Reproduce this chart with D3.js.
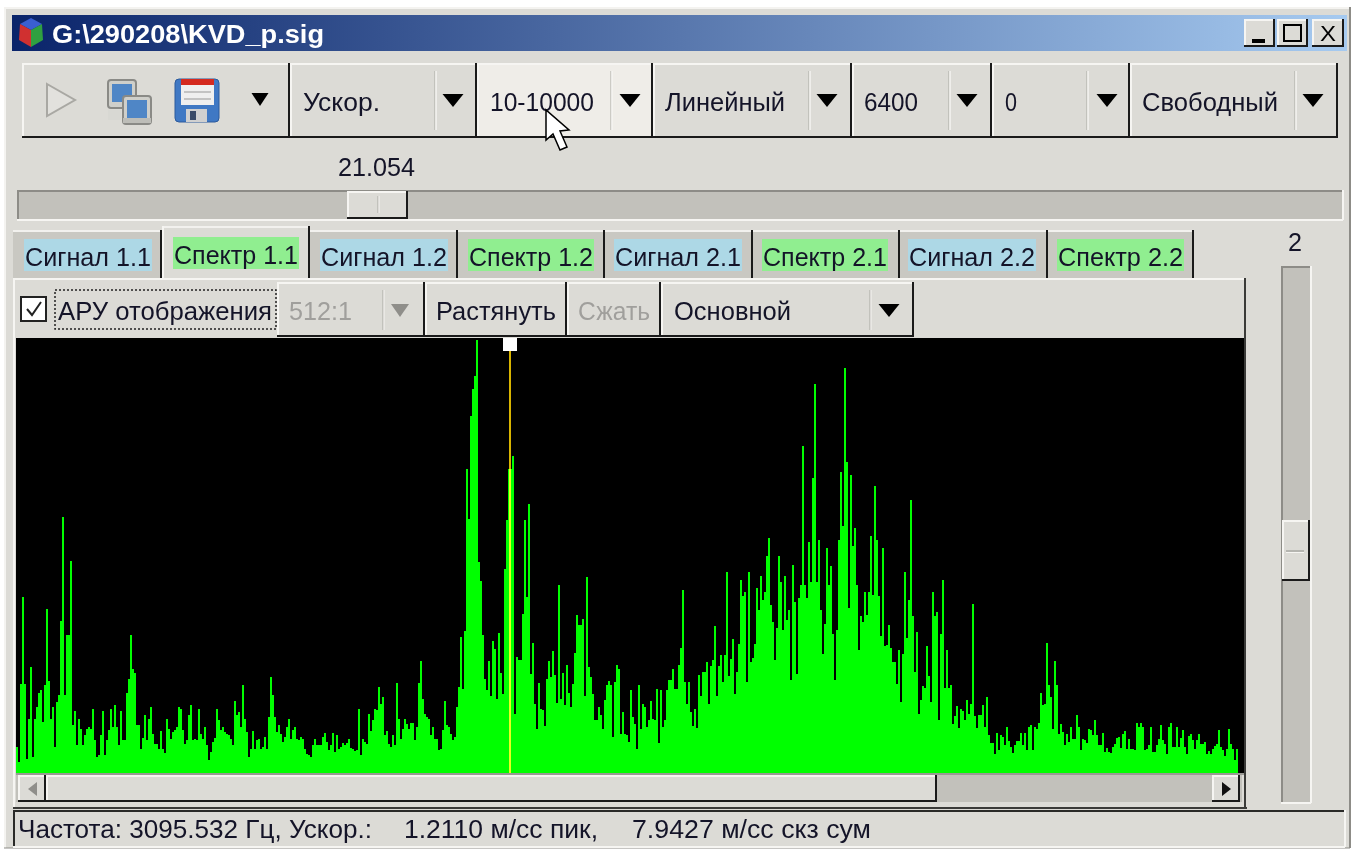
<!DOCTYPE html>
<html>
<head>
<meta charset="utf-8">
<script src="https://cdn.jsdelivr.net/npm/d3@7"></script>
<style>
  html, body { margin: 0; padding: 0; background: #fff; overflow: hidden; }
  svg { display: block; filter: blur(0.45px); }
  text { font-family: "Liberation Sans", Arial, sans-serif; }
</style>
</head>
<body>
<div id="app"></div>
<script>
var svgWidth = 1359;
var svgHeight = 851;

// spectrum amplitudes left to right
var ampLow = [
  26, 11, 89, 176, 89, 14, 54, 106, 16, 54,
  66, 80, 83, 51, 88, 164, 92, 54, 66, 26,
  71, 78, 152, 256, 78, 138, 138, 212, 48, 62,
  28, 54, 44, 28, 38, 44, 46, 44, 64, 33,
  16, 18, 38, 62, 18, 33, 43, 64, 46, 68,
  46, 28, 62, 33, 33, 80, 94, 138, 104, 100,
  48, 48, 24, 35, 58, 33, 54, 66, 39, 29,
  29, 24, 42, 24, 20, 54, 44, 34, 41, 43,
  46, 66, 64, 43, 29, 33, 58, 68, 33, 34,
  33, 64, 39, 34, 46, 28, 13, 21, 31, 35,
  64, 53, 43, 46, 41, 39, 38, 34, 28, 72,
  58, 61, 46, 88, 54, 41, 16, 24, 42, 24,
  33, 34, 24, 26, 36, 24, 56, 96, 78, 56,
  41, 48, 39, 31, 36, 46, 54, 34, 43, 46,
  34, 33, 36, 34, 24, 19, 18, 16, 28, 34,
  28, 28, 28, 36, 40, 31, 23, 28, 40, 21,
  38, 24
];
var ampMid = [
  26, 30, 28, 30, 34, 25, 24, 22, 23, 64,
  18, 34, 31, 29, 59, 42, 53, 64, 63, 86,
  69, 76, 38, 42, 29, 26, 38, 28, 90, 54,
  34, 44, 54, 49, 44, 50, 50, 33, 46, 90,
  112, 74, 59, 56, 54, 38, 46, 34, 34, 23,
  24, 43, 72, 48, 46, 39, 33, 36, 66, 86,
  136, 84, 142, 304, 254, 357, 384, 397, 433, 211,
  192, 138, 94, 83, 112, 77, 132, 124, 74, 140,
  100, 79, 204, 253, 304, 304, 317, 59, 116, 113,
  113, 159, 253, 176, 269, 99, 130, 69, 44, 90,
  64, 63, 47, 94, 112, 96, 122, 98, 70, 188,
  74, 100, 68, 108, 80, 66, 89, 120, 158, 148,
  148, 154, 77, 196, 106, 96, 79, 53, 53, 66,
  58, 44, 73, 88, 92, 88, 36, 91, 108, 104,
  39, 61, 39, 38, 31, 83, 56, 49, 24, 88,
  44, 69, 66, 46, 53, 72, 54, 53, 84, 30,
  83, 46, 53, 83, 93, 93, 104, 84, 84, 108
];
var ampHigh = [
  125, 183, 91, 69, 91, 61, 47, 64, 45, 98,
  77, 101, 101, 111, 69, 107, 113, 147, 77, 107,
  118, 91, 118, 201, 97, 114, 134, 79, 101, 129,
  193, 177, 181, 91, 201, 111, 115, 129, 185, 163,
  197, 173, 181, 217, 235, 168, 151, 113, 145, 217,
  191, 143, 197, 153, 163, 93, 208, 171, 99, 175,
  188, 327, 188, 175, 231, 191, 295, 389, 191, 233,
  163, 119, 149, 225, 188, 207, 139, 93, 143, 233,
  301, 247, 405, 311, 165, 298, 227, 245, 188, 123,
  157, 151, 181, 158, 181, 237, 178, 287, 233, 177,
  137, 225, 127, 128, 148, 125, 111, 111, 89, 123,
  71, 119, 201, 135, 173, 273, 157, 101, 141, 59,
  73, 87, 85, 127, 97, 71, 181, 157, 161, 53,
  139, 193, 85, 123, 85, 88, 49, 57, 67, 45,
  64, 62, 53, 73, 59, 69, 169, 57, 45, 58
];
var ampTail = [
  58, 68, 46, 76, 38, 30, 30, 19, 40, 23,
  38, 36, 28, 46, 32, 26, 20, 28, 32, 32,
  40, 28, 40, 23, 46, 48, 23, 46, 44, 50,
  80, 68, 69, 130, 88, 76, 44, 112, 88, 39,
  49, 41, 28, 39, 31, 46, 34, 34, 58, 46,
  23, 34, 33, 30, 44, 43, 38, 53, 38, 28,
  28, 40, 21, 25, 21, 20, 26, 29, 35, 36,
  25, 39, 42, 24, 34, 24, 24, 23, 50, 46,
  50, 46, 23, 24, 28, 46, 21, 21, 28, 34,
  48, 33, 29, 19, 46, 50, 26, 26, 46, 26,
  35, 43, 26, 19, 37, 39, 33, 24, 33, 39,
  29, 29, 31, 19, 22, 19, 24, 27, 29, 43,
  26, 23, 17, 24, 44, 29, 24, 13, 24
];
var amplitudes = ampLow.concat(ampMid, ampHigh, ampTail);
var cursorBin = 247;

var windowTitle = "G:\\290208\\KVD_p.sig";
var comboLabels = ["Ускор.", "10-10000", "Линейный", "6400", "0", "Свободный"];
var tabLabels = ["Сигнал 1.1", "Спектр 1.1", "Сигнал 1.2", "Спектр 1.2", "Сигнал 2.1", "Спектр 2.1", "Сигнал 2.2", "Спектр 2.2"];
var sliderValue = "21.054";
var gainValue = "2";
var statusText = "Частота: 3095.532 Гц, Ускор.:";
var statusPeak = "1.2110 м/сс пик,";
var statusRms = "7.9427 м/сс скз сум";

var face = "#dcdbd6";
var trough = "#c2c1bb";

var svg = d3.select("#app").append("svg")
  .attr("width", svgWidth)
  .attr("height", svgHeight);

function rect(x, y, w, h, fill) {
  return svg.append("rect")
    .attr("x", x).attr("y", y).attr("width", w).attr("height", h)
    .attr("fill", fill);
}

function hline(x1, x2, y, color, sw) {
  return svg.append("line")
    .attr("x1", x1).attr("x2", x2).attr("y1", y).attr("y2", y)
    .attr("stroke", color).attr("stroke-width", sw || 1);
}

function vline(x, y1, y2, color, sw) {
  return svg.append("line")
    .attr("x1", x).attr("x2", x).attr("y1", y1).attr("y2", y2)
    .attr("stroke", color).attr("stroke-width", sw || 1);
}

function poly(points, fill, stroke, sw) {
  return svg.append("polygon")
    .attr("points", points)
    .attr("fill", fill)
    .attr("stroke", stroke || "none")
    .attr("stroke-width", sw || 1);
}

// raised 3d box, light top/left and dark bottom/right
function bevel(x, y, w, h, fill) {
  rect(x, y, w, h, fill || face);
  hline(x, x + w, y + 1, "#f6f5f2", 2);
  vline(x + 1, y, y + h, "#f6f5f2", 2);
  hline(x, x + w, y + h - 1, "#1a1a1a", 2);
  vline(x + w - 1, y, y + h, "#1a1a1a", 2);
}

// sunken box for troughs
function sunken(x, y, w, h, fill) {
  rect(x, y, w, h, fill);
  hline(x, x + w, y + 1, "#8d8c87", 2);
  vline(x + 1, y, y + h, "#8d8c87", 2);
  hline(x, x + w, y + h, "#f6f5f2", 2);
  vline(x + w, y, y + h, "#f6f5f2", 2);
}

function label(x, y, str, len, opts) {
  opts = opts || {};
  return svg.append("text")
    .attr("x", x).attr("y", y)
    .attr("font-size", opts.size || 26.5)
    .attr("font-weight", opts.weight || "normal")
    .attr("fill", opts.fill || "#141428")
    .attr("textLength", len)
    .attr("lengthAdjust", "spacingAndGlyphs")
    .text(str);
}

function arrowDown(cx, cy, color, hw) {
  hw = hw || 10.5;
  poly([[cx - hw, cy - 6], [cx + hw, cy - 6], [cx, cy + 7]].join(" "), color || "#000");
}

// window frame
rect(4, 7, 1346, 841, face);
hline(4, 1350, 8, "#f4f3f0", 2);
vline(5, 7, 848, "#f4f3f0", 2);
hline(4, 1350, 848, "#8d8c87", 1);
vline(1350, 7, 848, "#8d8c87", 2);

// title bar
var defs = svg.append("defs");
var grad = defs.append("linearGradient").attr("id", "titleGrad");
grad.append("stop").attr("offset", "0%").attr("stop-color", "#0a246a");
grad.append("stop").attr("offset", "100%").attr("stop-color", "#a6caf0");
rect(12, 15, 1335, 36, "url(#titleGrad)");

// little cube icon
poly("31,18 42,24 31,30 20,24", "#3a5fd0");
poly("20,24 31,30 31,47 19,40", "#d03030");
poly("42,24 31,30 31,47 43,40", "#30a040");
label(52, 43, windowTitle, 272, {size: 26, weight: "bold", fill: "#fff"});

// caption buttons
bevel(1244, 19, 31, 28);
rect(1252, 39, 13, 4, "#000");
bevel(1277, 19, 31, 28);
svg.append("rect").attr("x", 1284).attr("y", 25).attr("width", 17).attr("height", 16)
  .attr("fill", "none").attr("stroke", "#000").attr("stroke-width", 2);
bevel(1312, 19, 32, 28);
label(1320, 41, "X", 16, {size: 22, fill: "#000"});

// main toolbar
bevel(22, 63, 268, 75);
poly("47,84 75,100 47,116", "#e2e1dd", "#a9a8a3", 2);

// network icon
function monitor(x, y) {
  svg.append("rect").attr("x", x).attr("y", y).attr("width", 28).attr("height", 28).attr("rx", 3)
    .attr("fill", "#cfcfca").attr("stroke", "#8a8a86").attr("stroke-width", 2);
  rect(x + 4, y + 4, 20, 18, "#4f86c6");
}
monitor(108, 80);
monitor(123, 96);
rect(108, 110, 13, 10, "#d8d8d3");
rect(123, 118, 28, 5, "#bdbdb8");

// floppy icon
svg.append("rect").attr("x", 175).attr("y", 79).attr("width", 44).attr("height", 43).attr("rx", 4)
  .attr("fill", "#3f78c4").attr("stroke", "#2c5a9c").attr("stroke-width", 1);
rect(181, 79, 33, 6, "#d42a20");
rect(181, 85, 33, 20, "#efefef");
hline(184, 211, 92, "#b5b5b5", 1.5);
hline(184, 211, 99, "#b5b5b5", 1.5);
rect(186, 109, 21, 13, "#d0d0d0");
rect(190, 111, 6, 9, "#3a4a68");

arrowDown(260, 99, "#000", 8.5);

var comboEdges = [290, 477, 653, 852, 992, 1130, 1338];
var comboSeps = [436, 612, 810, 950, 1088, 1296];
var comboArrows = [453, 630, 827, 967, 1107, 1313];
var comboTextX = [303, 490, 665, 864, 1005, 1142];
var comboTextLen = [77, 104, 120, 54, 12, 136];
comboLabels.forEach(function(d, i) {
  var hot = i === 1;
  bevel(comboEdges[i], 63, comboEdges[i + 1] - comboEdges[i], 75, hot ? "#efede8" : face);
  vline(comboSeps[i] - 1, 71, 130, "#a9a8a3", 1);
  vline(comboSeps[i], 71, 130, "#f6f5f2", 1.5);
  arrowDown(comboArrows[i], 100);
  label(comboTextX[i], 111, d, comboTextLen[i]);
});

// horizontal slider
label(338, 176, sliderValue, 77);
sunken(17, 190, 1326, 30, trough);
bevel(347, 191, 61, 28);
vline(378, 196, 213, "#a9a8a3", 1);
vline(379, 196, 213, "#f6f5f2", 1);

// tabs
var tabEdges = [13, 162, 310, 458, 605, 753, 900, 1048, 1194];
var tabBoxX = [24, 173, 320, 468, 614, 762, 908, 1057];
var tabBoxW = [128, 126, 128, 126, 128, 126, 128, 127];
tabLabels.forEach(function(d, i) {
  var active = i === 1;
  var top = active ? 226 : 230;
  var w = tabEdges[i + 1] - tabEdges[i];
  rect(tabEdges[i], top, w, 50, active ? face : "#c9c8c2");
  hline(tabEdges[i], tabEdges[i + 1], top + 1, "#f2f1ee", 2);
  if (active) vline(tabEdges[i] + 1, top, 278, "#f6f5f2", 2);
  vline(tabEdges[i + 1] - 1, top, 278, "#1a1a1a", 2);
  var isSignal = i % 2 === 0;
  var y0 = active ? 237 : 239;
  rect(tabBoxX[i], y0, tabBoxW[i], 32, isSignal ? "#add8e6" : "#90ee90");
  label(tabBoxX[i] + 1, y0 + 27, d, tabBoxW[i] - 2);
});

// panel under the tabs
rect(13, 278, 1233, 530, face);
hline(13, 1246, 279, "#f6f5f2", 2);
vline(14, 278, 808, "#f6f5f2", 2);
vline(1245, 278, 808, "#3a3a38", 2);
hline(13, 1247, 808, "#3a3a38", 2);

// second toolbar
svg.append("rect").attr("x", 21).attr("y", 297).attr("width", 25).attr("height", 24)
  .attr("fill", "#fff").attr("stroke", "#222").attr("stroke-width", 2);
svg.append("polyline").attr("points", "27,309 32,315 41,302")
  .attr("fill", "none").attr("stroke", "#222").attr("stroke-width", 2);
svg.append("rect").attr("x", 55).attr("y", 290).attr("width", 221).attr("height", 39)
  .attr("fill", "none").attr("stroke", "#222").attr("stroke-width", 1.5).attr("stroke-dasharray", "2,2");
label(58, 320, "АРУ отображения", 214);

bevel(277, 282, 148, 55);
vline(383, 290, 330, "#a9a8a3", 1);
vline(384, 290, 330, "#f6f5f2", 1);
arrowDown(400, 310, "#8f8e8a", 9);
label(289, 320, "512:1", 63, {fill: "#a09f9c"});
bevel(425, 282, 142, 55);
label(436, 320, "Растянуть", 120);
bevel(567, 282, 94, 55);
label(578, 320, "Сжать", 72, {fill: "#a09f9c"});
bevel(661, 282, 253, 55);
label(674, 320, "Основной", 117);
vline(870, 290, 330, "#a9a8a3", 1);
vline(871, 290, 330, "#f6f5f2", 1);
arrowDown(889, 310);

// spectrum
var bins = d3.range(amplitudes.length);
var xScale = d3.scaleBand().domain(bins).range([16, 1238]).padding(0);
var yScale = d3.scaleLinear().domain([0, 435]).range([773, 338]);

rect(16, 338, 1228, 435, "#000");

var chartGroup = svg.append("g").attr("shape-rendering", "crispEdges");
chartGroup.selectAll("rect")
  .data(amplitudes)
  .enter()
  .append("rect")
  .attr("x", (d, i) => xScale(i))
  .attr("y", d => yScale(d))
  .attr("width", xScale.bandwidth())
  .attr("height", d => yScale(0) - yScale(d))
  .attr("fill", "#00ff00");

// frequency cursor, golden over black and yellow over the green
var cursorX = xScale(cursorBin);
vline(cursorX, 345, yScale(amplitudes[cursorBin]), "#d8b400", 2);
vline(cursorX, yScale(amplitudes[cursorBin]), 773, "#e8ff20", 2);
rect(cursorX - 7, 338, 14, 13, "#fff");

// horizontal scrollbar
hline(16, 1244, 774, "#9a9994", 2);
rect(16, 775, 1226, 27, trough);
bevel(18, 775, 28, 27);
poly("37,782 37,796 28,789", "#8f8e8a");
bevel(46, 775, 891, 27);
bevel(1212, 775, 28, 27);
poly("1222,782 1222,796 1231,789", "#111");

// vertical gain slider
label(1288, 251, gainValue, 14);
sunken(1281, 266, 30, 537, trough);
bevel(1282, 520, 28, 61);
hline(1286, 1304, 551, "#a9a8a3", 1.5);
hline(1286, 1304, 552.5, "#f6f5f2", 1);

// status bar
rect(13, 810, 1332, 37, face);
hline(13, 1345, 811, "#2a2a28", 2);
vline(14, 810, 847, "#2a2a28", 2);
hline(13, 1345, 847, "#f6f5f2", 2);
vline(1345, 810, 847, "#f6f5f2", 2);
label(18, 838, statusText, 354, {size: 25});
label(404, 838, statusPeak, 194, {size: 25});
label(632, 838, statusRms, 239, {size: 25});

// mouse pointer
poly("546,110 546,140 553,134 560,150 567,147 560,131 569,130", "#fff", "#000", 1.5);
</script>
</body>
</html>
